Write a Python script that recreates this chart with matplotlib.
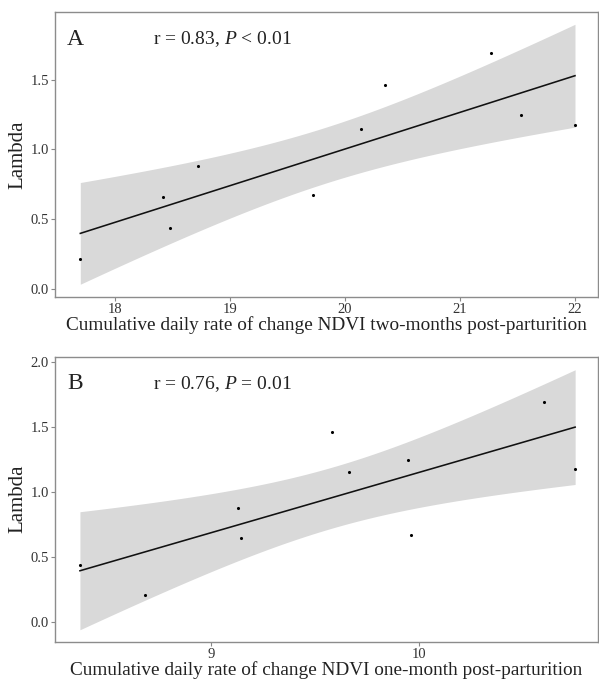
import numpy as np
import matplotlib
matplotlib.use("Agg")
import matplotlib.pyplot as plt

# lambda values (same animals in both panels)
lambda_a = [0.213, 0.654, 0.438, 0.881, 0.671, 1.149, 1.463, 1.691, 1.243, 1.174]
ndvi_two_months = [17.70, 18.42, 18.48, 18.72, 19.72, 20.14, 20.35, 21.27, 21.53, 22.00]

lambda_b = [0.440, 0.210, 0.880, 0.649, 1.463, 1.151, 1.243, 0.670, 1.693, 1.174]
ndvi_one_month = [8.368, 8.683, 9.130, 9.141, 9.581, 9.662, 9.944, 9.962, 10.602, 10.750]

labels = ["A", "B"]
stats = [r"r = 0.83, $P$ < 0.01", r"r = 0.76, $P$ = 0.01"]
xlabels = ["Cumulative daily rate of change NDVI two-months post-parturition",
           "Cumulative daily rate of change NDVI one-month post-parturition"]
xticks = [[18, 19, 20, 21, 22], [9, 10]]
yticks = [[0.0, 0.5, 1.0, 1.5], [0.0, 0.5, 1.0, 1.5, 2.0]]
xlims = [(17.48, 22.20), (8.248, 10.86)]
ylims = [(-0.06, 1.985), (-0.149, 2.038)]

T_975_DF8 = 2.306  # t quantile for 95% CI, n=10

plt.rcParams["font.family"] = "Liberation Serif"
plt.rcParams["mathtext.fontset"] = "custom"
plt.rcParams["mathtext.rm"] = "Liberation Serif"
plt.rcParams["mathtext.it"] = "Liberation Serif:italic"

fig = plt.figure(figsize=(5.99, 6.79), dpi=100)
ax_a = fig.add_axes([55/599, 1-297/679, 543/599, 285/679])
ax_b = fig.add_axes([55/599, 1-641.7/679, 543/599, 285/679])


def smooth_panel(ax, x, y, label, stat, xlabel, xt, yt, xl, yl):
    x = np.array(x)
    y = np.array(y)
    n = len(x)
    slope, intercept = np.polyfit(x, y, 1)
    resid = y - (slope*x + intercept)
    s = np.sqrt(np.sum(resid**2)/(n-2))
    sxx = np.sum((x - x.mean())**2)
    xs = np.linspace(x.min(), x.max(), 80)
    fit = slope*xs + intercept
    se = s*np.sqrt(1/n + (xs - x.mean())**2/sxx)
    ax.fill_between(xs, fit - T_975_DF8*se, fit + T_975_DF8*se,
                    color="#d9d9d9", linewidth=0, zorder=1)
    ax.plot(xs, fit, color="#111111", linewidth=1.15, zorder=2)
    ax.scatter(x, y, s=5, color="black", zorder=3, linewidths=0)

    ax.set_xlim(*xl)
    ax.set_ylim(*yl)
    ax.set_xticks(xt)
    ax.set_yticks(yt)
    ax.set_yticklabels([f"{v:.1f}" for v in yt])
    ax.tick_params(labelsize=10.5, colors="#333333", length=3, width=0.8,
                   color="#888888", pad=1.5)
    for sp in ax.spines.values():
        sp.set_color("#8c8c8c")
        sp.set_linewidth(1.0)
    ax.set_xlabel(xlabel, fontsize=13.9, labelpad=0, color="#222222")
    ax.set_ylabel("Lambda", fontsize=15, labelpad=2, color="#222222")
    ax.text(0.037, 0.905, label, transform=ax.transAxes, fontsize=17,
            ha="center", va="center", color="#222222")
    ax.text(0.18, 0.905, stat, transform=ax.transAxes, fontsize=14,
            ha="left", va="center", color="#222222")


smooth_panel(ax_a, ndvi_two_months, lambda_a, labels[0], stats[0], xlabels[0],
             xticks[0], yticks[0], xlims[0], ylims[0])
smooth_panel(ax_b, ndvi_one_month, lambda_b, labels[1], stats[1], xlabels[1],
             xticks[1], yticks[1], xlims[1], ylims[1])

fig.savefig("out.png", dpi=100)
